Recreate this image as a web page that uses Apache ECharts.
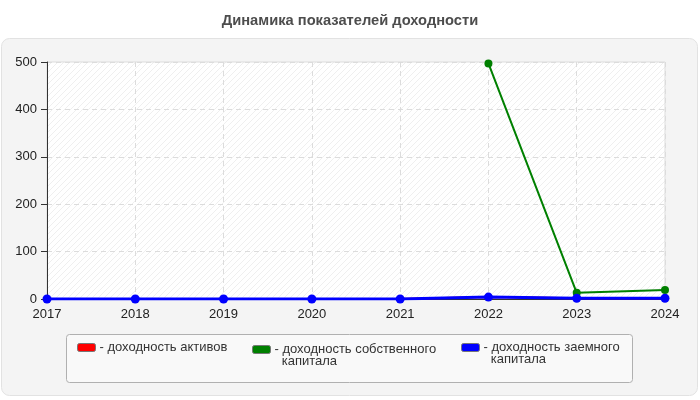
<!DOCTYPE html>
<html>
<head>
<meta charset="utf-8">
<script src="https://cdn.jsdelivr.net/npm/echarts@6/dist/echarts.min.js"></script>
<style>html,body{margin:0;padding:0;background:#fff}#c{width:700px;height:400px}</style>
</head>
<body>
<div id="c"></div>
<script>
var years = ['2017','2018','2019','2020','2021','2022','2023','2024'];
var assetsReturn = [0, 0, 0, 0, 0, 4, 1.5, 1.5];
var equityReturn = [null, null, null, null, null, 497, 13, 19];
var debtReturn = [0, 0, 0, 0, 0, 4, 1.5, 1.5];
var yTicks = [0, 100, 200, 300, 400, 500];

var pc = document.createElement('canvas');
pc.width = 6; pc.height = 6;
var g = pc.getContext('2d');
g.fillStyle = '#ffffff'; g.fillRect(0,0,6,6);
g.strokeStyle = '#efefef'; g.lineWidth = 1;
g.beginPath(); g.moveTo(0,6); g.lineTo(6,0); g.moveTo(-1,1); g.lineTo(1,-1); g.moveTo(5,7); g.lineTo(7,5); g.stroke();

var chart = echarts.init(document.getElementById('c'));
var font = 'Liberation Sans, Arial, sans-serif';
var labels = {
  'доходность активов': '- доходность активов',
  'доходность собственного капитала': '\u00a0\n- доходность собственного\n\u00a0\u00a0капитала',
  'доходность заемного капитала': '\u00a0\n- доходность заемного\n\u00a0\u00a0капитала'
};
function legendItem(name, left, top) {
  return {
    left: left, top: top, itemWidth: 18, itemHeight: 8, itemGap: 0, padding: 0,
    icon: 'roundRect', selectedMode: false,
    data: [name],
    formatter: function (n) { return labels[n]; },
    textStyle: { fontSize: 13, color: '#333', fontFamily: font, lineHeight: 12, padding: [0,0,0,-1] },
    itemStyle: { borderColor: '#777', borderWidth: 1 }
  };
}
chart.setOption({
  animation: false,
  title: { text: 'Динамика показателей доходности', left: 'center', top: 8,
    textStyle: { fontSize: 14.7, fontWeight: 'bold', color: '#4d4d4d', fontFamily: font } },
  graphic: [
    { type: 'rect', z: -10, shape: { x: 1.5, y: 38.5, width: 696, height: 357, r: 8 },
      style: { fill: '#f4f4f4', stroke: '#e2e2e2', lineWidth: 1 } },
    { type: 'rect', z: 1, shape: { x: 66.5, y: 334.5, width: 566, height: 48, r: 3 },
      style: { fill: '#f9f9f9', stroke: '#b0b0b0', lineWidth: 1 } }
  ],
  legend: [
    legendItem('доходность активов', 77, 341),
    legendItem('доходность собственного капитала', 252, 331),
    legendItem('доходность заемного капитала', 461, 329)
  ],
  grid: { left: 47, right: 35, top: 62, bottom: 101, show: true,
    backgroundColor: { image: pc, repeat: 'repeat' }, borderColor: '#dddddd', borderWidth: 1 },
  xAxis: {
    type: 'category', data: years, boundaryGap: false,
    axisLine: { lineStyle: { color: '#333', width: 1 } },
    axisTick: { show: false },
    axisLabel: { fontSize: 13, color: '#222', fontFamily: font, margin: 9 },
    splitLine: { show: true, lineStyle: { color: '#dcdcdc', type: [5, 4] } }
  },
  yAxis: {
    type: 'value', min: 0, max: 500, interval: 100,
    axisLine: { show: true, lineStyle: { color: '#333', width: 1 } },
    axisTick: { show: true, length: 6, lineStyle: { color: '#333' } },
    axisLabel: { fontSize: 13, color: '#222', fontFamily: font, margin: 10,
      formatter: function (v) { return yTicks.indexOf(v) >= 0 ? String(v) : ''; } },
    splitLine: { show: true, lineStyle: { color: '#dcdcdc', type: [5, 4] } }
  },
  series: [
    { name: 'доходность активов', type: 'line', data: assetsReturn, color: '#ff0000',
      symbol: 'circle', symbolSize: 7, lineStyle: { width: 2 } },
    { name: 'доходность собственного капитала', type: 'line', data: equityReturn, color: '#008000',
      symbol: 'circle', symbolSize: 8, lineStyle: { width: 2 } },
    { name: 'доходность заемного капитала', type: 'line', data: debtReturn, color: '#0000ff',
      symbol: 'circle', symbolSize: 9, lineStyle: { width: 3 } }
  ]
});
</script>
</body>
</html>
